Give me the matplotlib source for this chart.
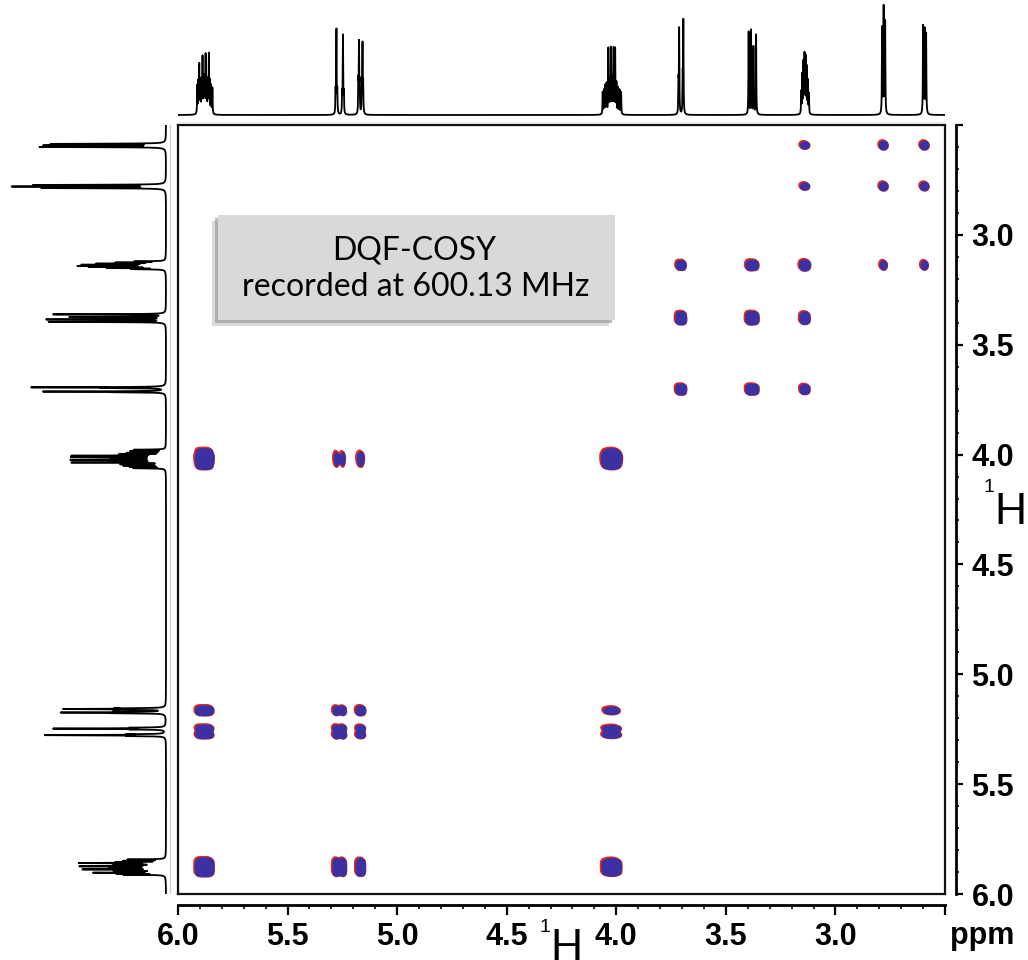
import numpy as np
import matplotlib
matplotlib.use("Agg")
import matplotlib.pyplot as plt
from matplotlib.patches import Rectangle
from matplotlib.ticker import FixedLocator, MultipleLocator

# ---------------- data: 1H multiplets (ppm) and relative line heights ----------------
A_pos = [5.912, 5.907, 5.903, 5.898, 5.893, 5.888, 5.883, 5.879, 5.874, 5.869, 5.864, 5.859, 5.855, 5.849, 5.843]
A_h = [28, 30, 48, 30, 32, 55, 30, 34, 57, 30, 32, 58, 30, 28, 26]
B_pos = [5.281, 5.277, 5.273, 5.251, 5.247, 5.243]
B_h = [22, 84, 22, 20, 79, 20]
C_pos = [5.177, 5.174, 5.171, 5.161, 5.158, 5.155]
C_h = [30, 68, 28, 28, 67, 28]
D_pos = [4.062, 4.056, 4.050, 4.044, 4.036, 4.030, 4.024, 4.018, 4.012, 4.005, 3.999, 3.992, 3.985, 3.978]
D_h = [22, 24, 28, 30, 65, 32, 65, 34, 65, 65, 30, 26, 24, 22]
E_pos = [3.716, 3.713, 3.697, 3.694]
E_h = [30, 85, 35, 93]
F_pos = [3.396, 3.385, 3.374, 3.362]
F_h = [83, 84, 68, 80]
G_pos = [3.156, 3.151, 3.146, 3.141, 3.136, 3.131, 3.126, 3.121]
G_h = [22, 38, 50, 58, 55, 45, 32, 20]
H_pos = [2.787, 2.780, 2.773]
H_h = [86, 106, 92]
I_pos = [2.600, 2.593, 2.586]
I_h = [88, 84, 80]

# ---------------- data: DQF-COSY cross/diagonal peaks (F1 spin, F2 spin, level) ----------------
cross_f1 = ["I", "I", "I", "H", "H", "H", "G", "G", "G", "G", "G", "F", "F", "F", "E", "E", "E",
            "D", "D", "D", "D", "C", "C", "C", "C", "B", "B", "B", "B", "A", "A", "A", "A"]
cross_f2 = ["G", "H", "I", "G", "H", "I", "E", "F", "G", "H", "I", "E", "F", "G", "E", "F", "G",
            "A", "B", "C", "D", "A", "B", "C", "D", "A", "B", "C", "D", "A", "B", "C", "D"]
cross_amp = [0.5, 1.0, 1.0, 0.5, 1.0, 0.9, 0.6, 0.8, 1.0, 0.5, 0.5, 0.9, 1.0, 0.7, 0.9, 0.9, 0.6,
             1.0, 0.3, 0.3, 1.0, 0.8, 0.7, 0.8, 0.35, 0.8, 0.9, 0.7, 0.6, 1.0, 0.8, 0.7, 0.7]

x_ticks = [6.0, 5.5, 5.0, 4.5, 4.0, 3.5, 3.0, 2.5]
x_ticklabels = ["6.0", "5.5", "5.0", "4.5", "4.0", "3.5", "3.0", ""]
y_ticks = [2.5, 3.0, 3.5, 4.0, 4.5, 5.0, 5.5, 6.0]
y_ticklabels = ["", "3.0", "3.5", "4.0", "4.5", "5.0", "5.5", "6.0"]

spins = {
    "A": (A_pos, A_h), "B": (B_pos, B_h), "C": (C_pos, C_h), "D": (D_pos, D_h),
    "E": (E_pos, E_h), "F": (F_pos, F_h), "G": (G_pos, G_h), "H": (H_pos, H_h), "I": (I_pos, I_h),
}

PPM_LO, PPM_HI = 2.5, 6.0
BLUE = "#3b31a2"
RED = "#de2a22"

W, H = 1028, 960
fig = plt.figure(figsize=(W / 100, H / 100), dpi=100)


def fx(px):
    return px / W


def fy(py):
    return 1 - py / H


# ---------------- 1D spectrum from line list (Lorentzian lines) ----------------
ppm1d = np.linspace(PPM_LO, PPM_HI, 12000)
gam = 0.0011
spec = np.zeros_like(ppm1d)
for pos, hts in spins.values():
    for p, h in zip(pos, hts):
        spec += h / (1 + ((ppm1d - p) / gam) ** 2)

# ---------------- main 2D axes ----------------
main_l, main_r, main_t, main_b = 178, 945, 125, 894
pos_main = [fx(main_l), fy(main_b), fx(main_r - main_l), (main_b - main_t) / H]
ax = fig.add_axes(pos_main)
ax.set_xlim(PPM_HI, PPM_LO)
ax.set_ylim(PPM_HI, PPM_LO)
ax.tick_params(which="both", bottom=False, left=False, labelbottom=False, labelleft=False)
for s in ax.spines.values():
    s.set_linewidth(1.6)
    s.set_color("#111111")

grid = np.arange(PPM_LO, PPM_HI, 0.0018)
sig = 0.0095


def profile(g, name):
    pos, hts = spins[name]
    p = np.zeros_like(g)
    for c, h in zip(pos, hts):
        p += h * np.exp(-((g - c) ** 2) / (2 * sig ** 2))
    return p / p.max()


prof = {k: profile(grid, k) for k in spins}
prof_sx = {k: profile(grid - 0.006, k) for k in spins}
prof_sy = {k: profile(grid + 0.005, k) for k in spins}

Z = np.zeros((grid.size, grid.size))
Zr = np.zeros_like(Z)
for f1, f2, a in zip(cross_f1, cross_f2, cross_amp):
    Z += a * np.outer(prof[f1], prof[f2])
    Zr += a * np.outer(prof_sy[f1], prof_sx[f2])

thr = 0.13
ax.contourf(grid, grid, Z, levels=[thr * 0.75, Z.max() + 1], colors=[RED], antialiased=True)
ax.contourf(grid, grid, Zr, levels=[thr * 0.8, Zr.max() + 1], colors=[RED], antialiased=True)
ax.contourf(grid, grid, Z, levels=[thr, Z.max() + 1], colors=[BLUE], antialiased=True)

# ---------------- tick axes (offset bottom/right scales) ----------------
axt = fig.add_axes(pos_main)
axt.set_xlim(PPM_HI, PPM_LO)
axt.set_ylim(PPM_HI, PPM_LO)
axt.patch.set_visible(False)
for side in ["top", "left"]:
    axt.spines[side].set_visible(False)
for side in ["bottom", "right"]:
    axt.spines[side].set_position(("outward", 8))
    axt.spines[side].set_linewidth(2.0)
axt.yaxis.tick_right()
axt.xaxis.set_major_locator(FixedLocator(x_ticks))
axt.set_xticklabels(x_ticklabels)
axt.yaxis.set_major_locator(FixedLocator(y_ticks))
axt.set_yticklabels(y_ticklabels)
axt.xaxis.set_minor_locator(MultipleLocator(0.1))
axt.yaxis.set_minor_locator(MultipleLocator(0.1))
axt.tick_params(axis="x", which="major", length=7, width=1.6, pad=5, labelsize=22)
axt.tick_params(axis="x", which="minor", length=3, width=1.2)
axt.tick_params(axis="y", which="major", length=5, width=1.6, pad=6, labelsize=22)
axt.tick_params(axis="y", which="minor", length=2.5, width=1.2)
for lab in axt.get_xticklabels() + axt.get_yticklabels():
    lab.set_fontweight("bold")
    lab.set_fontfamily("Liberation Sans")

# ---------------- top projection ----------------
axtop = fig.add_axes([fx(main_l), fy(125), fx(main_r - main_l), 125 / H])
axtop.plot(ppm1d, spec, color="black", lw=1.3)
axtop.axhline(-8, color="#e6e6e6", lw=1.2)
axtop.set_xlim(PPM_HI, PPM_LO)
axtop.set_ylim(-10, 115)
axtop.axis("off")

# ---------------- left projection ----------------
axleft = fig.add_axes([0, fy(main_b), fx(178), (main_b - main_t) / H])
axleft.plot(spec * 1.4, ppm1d, color="black", lw=1.3)
axleft.axvline(-4, color="#d0d0d0", lw=1.0)
axleft.set_ylim(PPM_HI, PPM_LO)
axleft.set_xlim(166, -12)
axleft.axis("off")

# ---------------- annotation box ----------------
bx0, bx1, by0, by1 = 218, 615, 215, 320
fig.patches.append(Rectangle((fx(bx0 - 6), fy(by1 + 6)), fx(bx1 - bx0), (by1 - by0) / H,
                             transform=fig.transFigure, facecolor="#b8b8b8", edgecolor="none", alpha=0.5, zorder=5))
fig.patches.append(Rectangle((fx(bx0 - 3), fy(by1 + 3)), fx(bx1 - bx0), (by1 - by0) / H,
                             transform=fig.transFigure, facecolor="#909090", edgecolor="none", alpha=0.6, zorder=5))
fig.patches.append(Rectangle((fx(bx0), fy(by1)), fx(bx1 - bx0), (by1 - by0) / H,
                             transform=fig.transFigure, facecolor="#d9d9d9", edgecolor="none", zorder=6))
fig.text(fx(414), fy(251), "DQF-COSY", ha="center", va="center", fontsize=23,
         family="Lato", color="black", zorder=7)
fig.text(fx(416), fy(287), "recorded at 600.13 MHz", ha="center", va="center", fontsize=23,
         family="Lato", color="black", zorder=7)

# ---------------- axis titles ----------------
fig.text(fx(982), fy(936), "ppm", ha="center", va="center", fontsize=22, fontweight="bold",
         family="Liberation Sans")
fig.text(fx(545), fy(928), "1", ha="center", va="center", fontsize=14, family="Liberation Sans")
fig.text(fx(566), fy(948), "H", ha="center", va="center", fontsize=32, family="Liberation Sans")
fig.text(fx(989), fy(488), "1", ha="center", va="center", fontsize=14, family="Liberation Sans")
fig.text(fx(1010), fy(512), "H", ha="center", va="center", fontsize=32, family="Liberation Sans")

fig.savefig("out.png", dpi=100)
